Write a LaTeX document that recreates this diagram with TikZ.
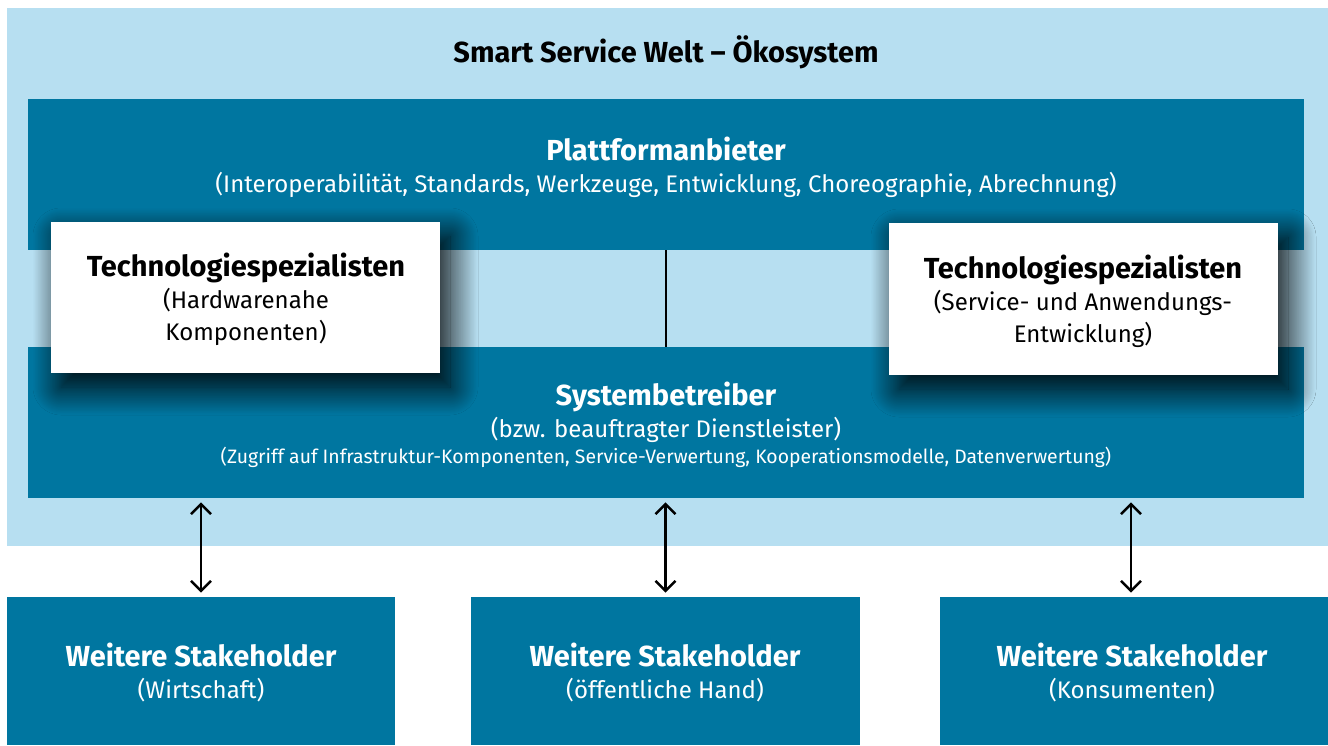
\documentclass[tikz,border=0pt]{standalone}
\usepackage{fontspec}
\setmainfont{Fira Sans}
\usetikzlibrary{arrows.meta,fit,shadows.blur}
\definecolor{hellblau}{HTML}{B7DFF1}
\definecolor{dunkelblau}{HTML}{0076A0}
\tikzset{
	feld/.style={fill=dunkelblau, inner sep=0pt},
	weissfeld/.style={fill=white, inner sep=0pt, blur shadow={shadow xshift=5pt, shadow yshift=-7pt, shadow blur radius=14pt, shadow blur steps=40, shadow opacity=100}},
	kopf/.style={font=\bfseries\fontsize{14.5}{17}\selectfont, anchor=base},
	unter/.style={font=\fontsize{12}{14}\selectfont, anchor=base},
	klein/.style={font=\fontsize{9.7}{11}\selectfont, anchor=base},
	pfeil/.style={{Straight Barb[length=5pt,width=10pt]}-{Straight Barb[length=5pt,width=10pt]}, line width=1.2pt, shorten <=2pt, shorten >=2pt},
}
\begin{document}
\begin{tikzpicture}[x=0.5pt, y=-0.5pt]
		%%%%% START %%%%%
		\useasboundingbox (0, 0) rectangle (1328, 745);
		
		\fill[hellblau] (7, 8) rectangle (1328, 546);
		\node[kopf] (titel) at (666, 62) {Smart Service Welt – Ökosystem};
		
		\node[feld, fit={(28, 99) (1304, 250)}] (plattform) {};
		\node[kopf, text=white] (plattformkopf) at (666, 160) {Plattformanbieter};
		\node[unter, text=white] (plattformtext) at (666, 192) {(Interoperabilität, Standards, Werkzeuge, Entwicklung, Choreographie, Abrechnung)};
		
		\node[feld, fit={(28, 347) (1304, 498)}] (betreiber) {};
		\node[kopf, text=white] (betreiberkopf) at (666, 405) {Systembetreiber};
		\node[unter, text=white] (betreibertext) at (666, 437) {(bzw. beauftragter Dienstleister)};
		\node[klein, text=white] (betreiberklein) at (666, 463) {(Zugriff auf Infrastruktur-Komponenten, Service-Verwertung, Kooperationsmodelle, Datenverwertung)};
		
		\draw[line width=1pt] (plattform.south) -- (betreiber.north);
		
		\node[weissfeld, fit={(51, 222) (440, 373)}] (techlinks) {};
		\node[kopf] (techlinkskopf) at (246, 276) {Technologiespezialisten};
		\node[unter] (techlinkseins) at (246, 308) {(Hardwarenahe};
		\node[unter] (techlinkszwei) at (246, 340) {Komponenten)};
		
		\node[weissfeld, fit={(889, 223) (1278, 375)}] (techrechts) {};
		\node[kopf] (techrechtskopf) at (1083, 278) {Technologiespezialisten};
		\node[unter] (techrechtseins) at (1083, 310) {(Service- und Anwendungs-};
		\node[unter] (techrechtszwei) at (1083, 342) {Entwicklung)};
		
		\node[feld, fit={(7, 597) (395, 745)}] (wirtschaft) {};
		\node[kopf, text=white] (wirtschaftkopf) at (201, 666) {Weitere Stakeholder};
		\node[unter, text=white] (wirtschafttext) at (201, 698) {(Wirtschaft)};
		
		\node[feld, fit={(471, 597) (860, 745)}] (hand) {};
		\node[kopf, text=white] (handkopf) at (665, 666) {Weitere Stakeholder};
		\node[unter, text=white] (handtext) at (665, 698) {(öffentliche Hand)};
		
		\node[feld, fit={(940, 597) (1328, 745)}] (konsumenten) {};
		\node[kopf, text=white] (konsumentenkopf) at (1132, 666) {Weitere Stakeholder};
		\node[unter, text=white] (konsumententext) at (1132, 698) {(Konsumenten)};
		
		\draw[pfeil] (betreiber.south -| wirtschaft.north) -- (wirtschaft.north);
		\draw[pfeil] (betreiber.south -| hand.north) -- (hand.north);
		\draw[pfeil] (betreiber.south -| konsumenten.north) ++(-3, 0) coordinate (k) -- (k |- konsumenten.north);
		
		%%%%% END %%%%%
\end{tikzpicture}
\end{document}
